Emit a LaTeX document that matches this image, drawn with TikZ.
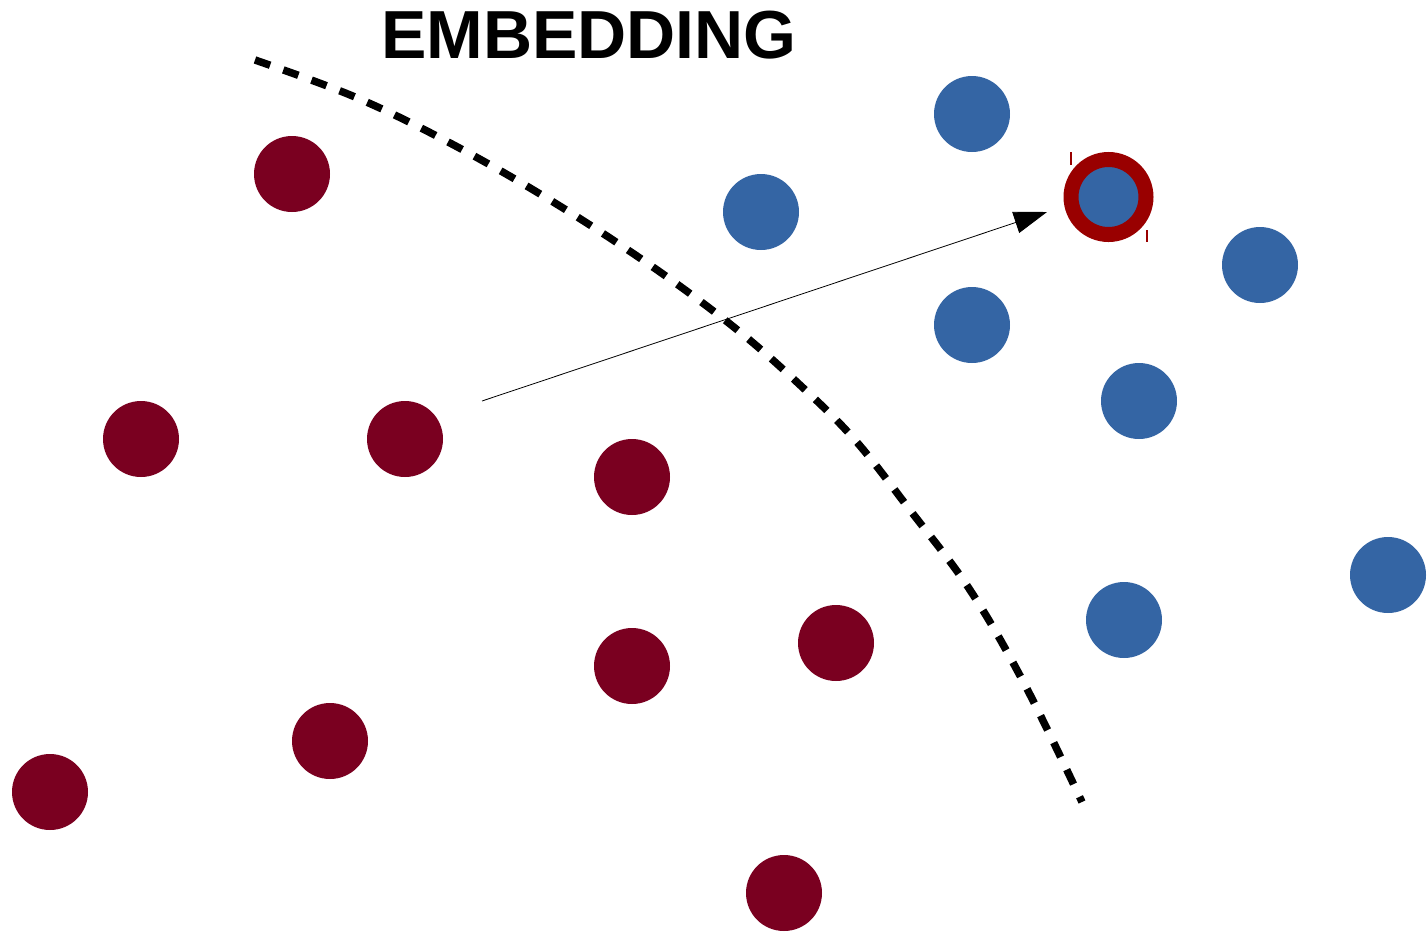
\documentclass[tikz,border=0pt]{standalone}
\usepackage{fontspec}
\setmainfont{Liberation Sans}
\usetikzlibrary{arrows.meta}
\definecolor{dred}{HTML}{7A0020}
\definecolor{dblue}{HTML}{3465A4}
\definecolor{ringred}{HTML}{990000}
\tikzset{
  reddot/.style={circle, fill=dred, minimum size=76pt, inner sep=0pt},
  bluedot/.style={circle, fill=dblue, minimum size=76pt, inner sep=0pt},
  ringdot/.style={circle, fill=dblue, draw=ringred, line width=15pt, minimum size=76pt, inner sep=0pt},
  boundary/.style={line width=7.5pt, dash pattern=on 16pt off 14pt},
  link/.style={line width=0.8pt, -{Triangle[length=33pt, width=22pt]}}
}
\begin{document}
\begin{tikzpicture}[x=1pt, y=-1pt]
\useasboundingbox (0,0) rectangle (1428,932);
\node (title) at (589,35) {\fontsize{68}{72}\selectfont\bfseries EMBEDDING};
% red points
\node[reddot] (r1) at (292,174) {};
\node[reddot] (r2) at (141,439) {};
\node[reddot] (r3) at (405,439) {};
\node[reddot] (r4) at (632,477) {};
\node[reddot] (r5) at (632,666) {};
\node[reddot] (r6) at (836,643) {};
\node[reddot] (r7) at (330,741) {};
\node[reddot] (r8) at (50,792) {};
\node[reddot] (r9) at (784,893) {};
% blue points
\node[bluedot] (b1) at (972,114) {};
\node[bluedot] (b2) at (761,212) {};
\node[bluedot] (b3) at (1260,265) {};
\node[bluedot] (b4) at (972,325) {};
\node[bluedot] (b5) at (1139,401) {};
\node[bluedot] (b6) at (1388,575) {};
\node[bluedot] (b7) at (1124,620) {};
\node[ringdot, minimum size=75pt] (target) at (1108.5,197) {};
\draw[ringred, line width=1.2pt] (1071,152) -- (1071,165);
\draw[ringred, line width=1.2pt] (1147,230) -- (1147,242);
% boundary
\draw[boundary] plot[smooth, tension=0.6] coordinates {(255,60) (355,97) (450,143) (550,200) (650,265) (735,328) (800,385) (855,440) (910,510) (970,590) (1025,685) (1082,802)};
% arrow
\coordinate (start) at (482,401);
\coordinate (tip) at (1047,212);
\draw[link] (start) -- (tip);
\end{tikzpicture}
\end{document}
